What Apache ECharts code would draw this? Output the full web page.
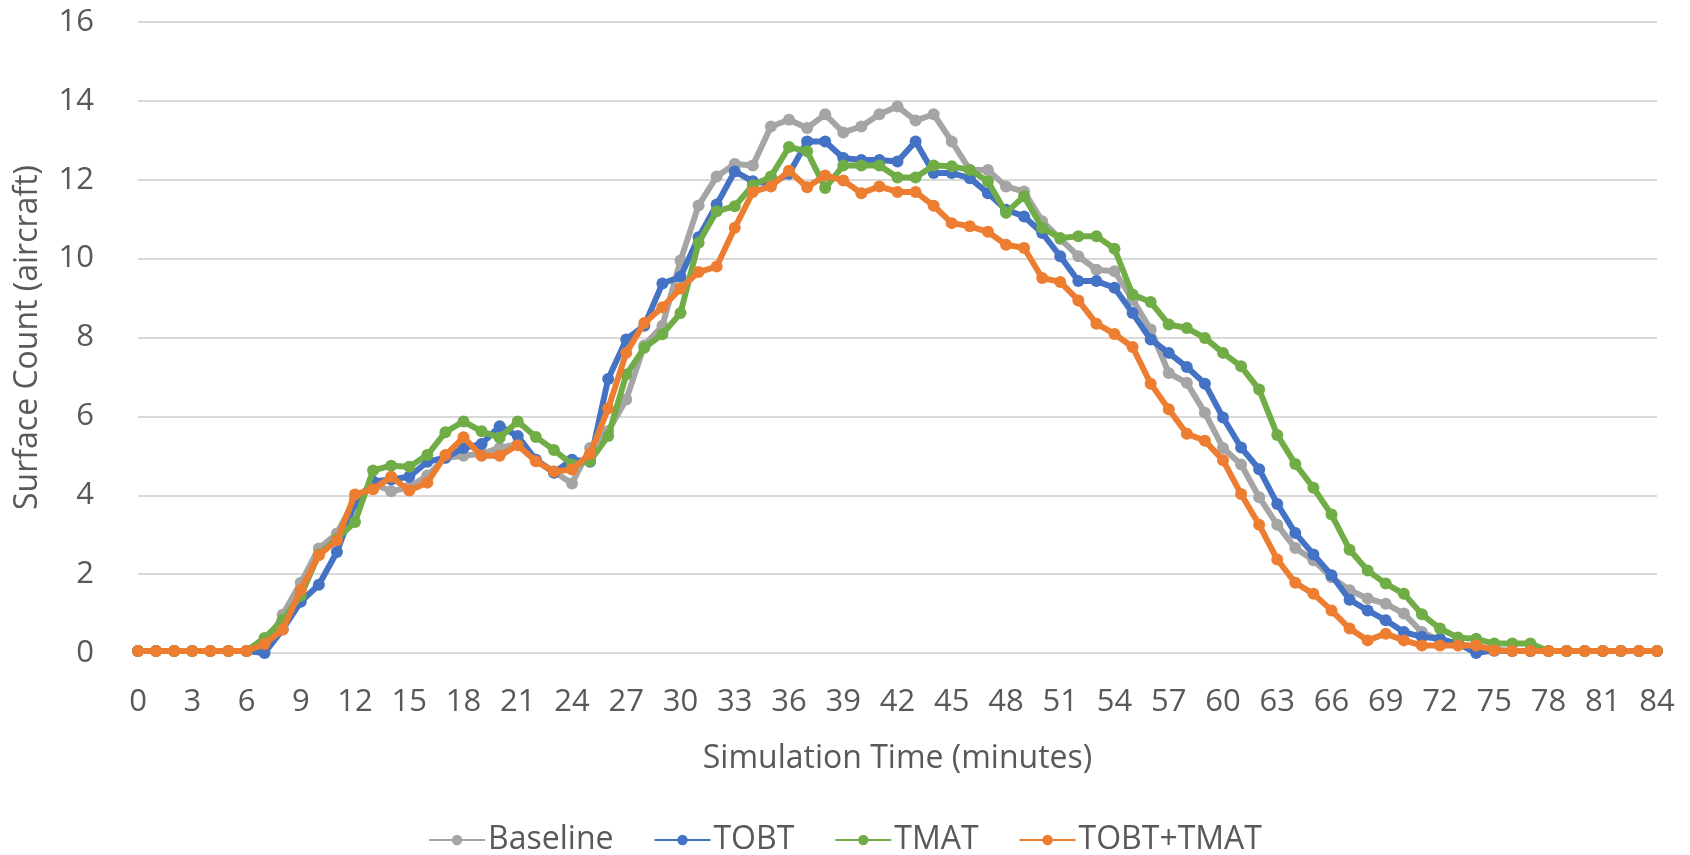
<!DOCTYPE html>
<html>
<head>
<meta charset="utf-8">
<script src="https://cdn.jsdelivr.net/npm/echarts@6/dist/echarts.min.js"></script>
<style>html,body{margin:0;padding:0;background:#fff;}#c{width:1690px;height:855px;}</style>
</head>
<body>
<div id="c"></div>
<script>
const minutes = Array.from({length: 85}, (_, i) => String(i));
const seriesNames = ['Baseline', 'TOBT', 'TMAT', 'TOBT+TMAT'];
const baseline = [0.05,0.05,0.05,0.05,0.05,0.05,0.05,
  0.15,0.97,1.78,2.65,3.03,3.9,4.3,4.1,4.2,4.5,4.95,5.0,5.05,5.2,5.3,4.9,4.6,4.3,5.2,5.63,6.43,7.8,8.3,9.95,
  11.35,12.08,12.4,12.36,13.35,13.52,13.31,13.66,13.2,13.35,13.66,13.86,13.5,13.66,12.97,12.25,12.25,11.83,11.7,10.95,
  10.5,10.06,9.72,9.68,8.96,8.2,7.1,6.85,6.09,5.2,4.78,3.95,3.25,2.66,2.35,1.92,1.59,1.38,1.25,1.0,
  0.53,0.32,0.24,0.15,
  0.05,0.05,0.05,0.05,0.05,0.05,0.05,0.05,0.05,0.05];
const tobt = [0.05,0.05,0.05,0.05,0.05,0.05,0.05,
  0.0,0.6,1.3,1.73,2.56,3.8,4.35,4.4,4.47,4.85,4.95,5.2,5.3,5.75,5.5,4.9,4.57,4.9,4.85,6.95,7.95,8.3,9.37,9.54,
  10.54,11.37,12.21,11.96,11.9,12.15,12.97,12.97,12.55,12.5,12.5,12.46,12.97,12.17,12.17,12.04,11.66,11.24,11.07,10.65,
  10.06,9.43,9.43,9.26,8.62,7.95,7.61,7.25,6.83,5.97,5.21,4.66,3.78,3.04,2.5,1.97,1.35,1.08,0.83,0.53,
  0.41,0.36,0.24,0.0,0.07,
  0.05,0.05,0.05,0.05,0.05,0.05,0.05,0.05,0.05];
const tmat = [0.05,0.05,0.05,0.05,0.05,0.05,0.05,
  0.38,0.84,1.45,2.5,2.9,3.32,4.63,4.75,4.72,5.02,5.6,5.87,5.62,5.46,5.87,5.48,5.15,4.78,4.87,5.5,7.06,7.74,8.08,8.62,
  10.4,11.2,11.33,11.86,12.08,12.83,12.72,11.79,12.36,12.36,12.36,12.06,12.06,12.36,12.34,12.25,11.96,11.16,11.58,10.78,
  10.52,10.57,10.57,10.25,9.09,8.9,8.33,8.24,7.99,7.61,7.27,6.68,5.53,4.79,4.19,3.51,2.62,2.09,1.76,1.5,
  0.98,0.62,0.39,0.36,0.24,0.24,0.24,
  0.05,0.05,0.05,0.05,0.05,0.05,0.05];
const tobtTmat = [0.05,0.05,0.05,0.05,0.05,0.05,0.05,
  0.23,0.59,1.6,2.48,2.86,4.02,4.15,4.47,4.12,4.32,5.02,5.47,5.0,5.0,5.27,4.86,4.6,4.65,5.05,6.2,7.61,8.37,8.77,9.24,
  9.66,9.8,10.78,11.69,11.83,12.23,11.81,12.11,11.98,11.66,11.83,11.69,11.69,11.34,10.9,10.82,10.68,10.35,10.27,9.51,
  9.41,8.94,8.35,8.09,7.76,6.83,6.18,5.56,5.38,4.89,4.03,3.25,2.37,1.78,1.5,1.08,0.62,0.32,0.49,0.32,
  0.19,0.19,0.19,0.19,0.07,
  0.05,0.05,0.05,0.05,0.05,0.05,0.05,0.05,0.05];
const yTicks = [0, 2, 4, 6, 8, 10, 12, 14, 16];

const colors = ['#A5A5A5', '#4472C4', '#70AD47', '#ED7D31'];
const dataSets = [baseline, tobt, tmat, tobtTmat];
const font = '"Open Sans", "Noto Sans", sans-serif';

const chart = echarts.init(document.getElementById('c'), null, {renderer: 'canvas'});
chart.setOption({
  animation: false,
  backgroundColor: '#ffffff',
  color: colors,
  grid: {left: 138, right: 33, top: 22, bottom: 202, containLabel: false, outerBoundsMode: 'none'},
  legend: {
    bottom: -6,
    left: 'center',
    itemWidth: 56,
    itemHeight: 13,
    itemGap: 40,
    textStyle: {color: '#595959', fontSize: 32, fontFamily: font, padding: [0, 0, 0, -2]},
    data: seriesNames
  },
  xAxis: {
    type: 'category',
    data: minutes,
    boundaryGap: false,
    name: 'Simulation Time (minutes)',
    nameLocation: 'middle',
    nameGap: 90,
    nameTextStyle: {color: '#595959', fontSize: 32, fontFamily: font},
    axisLine: {lineStyle: {color: '#d9d9d9', width: 2}},
    axisTick: {show: false},
    axisLabel: {interval: 2, color: '#595959', fontSize: 31, fontFamily: font, margin: 34},
    splitLine: {show: false}
  },
  yAxis: {
    type: 'value',
    min: yTicks[0],
    max: yTicks[yTicks.length - 1],
    interval: 2,
    name: 'Surface Count (aircraft)',
    nameLocation: 'middle',
    nameGap: 94,
    nameTextStyle: {color: '#595959', fontSize: 32, fontFamily: font},
    axisLine: {show: false},
    axisTick: {show: false},
    axisLabel: {color: '#595959', fontSize: 31, fontFamily: font, margin: 44},
    splitLine: {lineStyle: {color: '#d9d9d9', width: 2}}
  },
  series: seriesNames.map((n, i) => ({
    name: n,
    type: 'line',
    data: dataSets[i],
    symbol: 'circle',
    symbolSize: 12,
    showAllSymbol: true,
    lineStyle: {width: 6, color: colors[i]},
    itemStyle: {color: colors[i]},
    z: 2 + i
  }))
});
</script>
</body>
</html>
